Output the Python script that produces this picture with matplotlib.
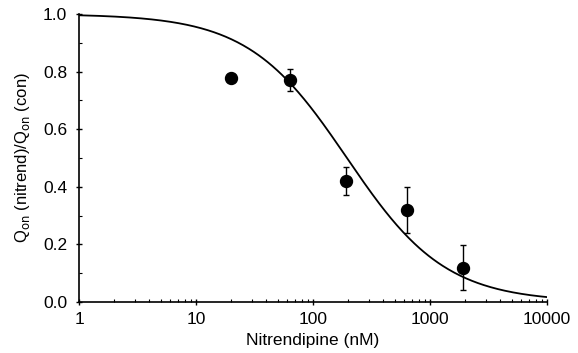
import numpy as np
import matplotlib
matplotlib.use("Agg")
import matplotlib.pyplot as plt
from matplotlib.ticker import FixedLocator, NullFormatter, LogLocator

# Data
conc_nM = [20, 64, 190, 640, 1930]
q_ratio = [0.777, 0.771, 0.42, 0.318, 0.119]
q_err = [0.0, 0.037, 0.05, 0.08, 0.078]

# Fitted dose-response (Hill) curve parameters
ic50_nM = 195.0
hill_n = 1.03

x_ticks = [1, 10, 100, 1000, 10000]
x_ticklabels = ["1", "10", "100", "1000", "10000"]
y_ticks = [0.0, 0.2, 0.4, 0.6, 0.8, 1.0]

plt.rcParams['font.family'] = ['Liberation Sans', 'DejaVu Sans']

fig = plt.figure(figsize=(5.78, 3.53), dpi=100)
ax = fig.add_axes([0.1367, 0.1445, 0.8097, 0.8158])

xc = np.logspace(0, 4, 400)
yc = 1.0 / (1.0 + (xc / ic50_nM) ** hill_n)
ax.plot(xc, yc, color='black', lw=1.3)

ax.errorbar(conc_nM, q_ratio, yerr=q_err, fmt='o', color='black', ms=8.6,
            elinewidth=1.0, capsize=2.5, capthick=1.0, zorder=3)

ax.set_xscale('log')
ax.set_xlim(1, 10000)
ax.set_ylim(0, 1.0)
ax.set_xticks(x_ticks)
ax.set_xticklabels(x_ticklabels)
ax.xaxis.set_minor_locator(LogLocator(base=10, subs=np.arange(2, 10)))
ax.xaxis.set_minor_formatter(NullFormatter())
ax.set_yticks(y_ticks)
ax.set_yticklabels([f"{v:.1f}" for v in y_ticks])
ax.yaxis.set_minor_locator(FixedLocator(np.arange(0.1, 1.0, 0.2)))

for s in ['top', 'right']:
    ax.spines[s].set_visible(False)
for s in ['left', 'bottom']:
    ax.spines[s].set_linewidth(1.2)

ax.tick_params(axis='both', which='major', direction='inout', length=5, width=1, labelsize=12.5)
ax.tick_params(axis='x', which='major', pad=5)
ax.tick_params(axis='y', which='major', pad=6)
ax.tick_params(axis='both', which='minor', direction='in', length=2.5, width=0.8)

ax.set_xlabel("Nitrendipine (nM)", fontsize=12.5, labelpad=4)
ax.set_ylabel(r"Q$_{\rm on}$ (nitrend)/Q$_{\rm on}$ (con)", fontsize=12, labelpad=8)

fig.savefig("out.png", dpi=100)
